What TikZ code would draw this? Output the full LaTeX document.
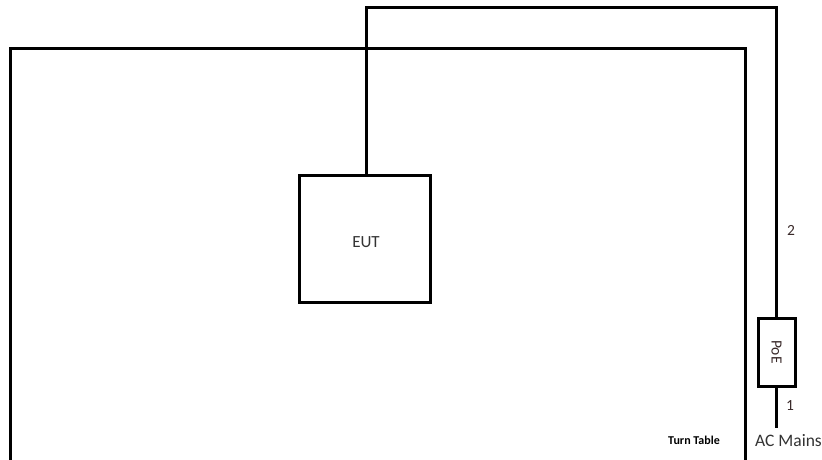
\documentclass[tikz,border=0pt]{standalone}
\usepackage{fontspec}
\setmainfont{Carlito}
\definecolor{lblcol}{HTML}{3A2A2A}
\begin{document}
\begin{tikzpicture}[x=1pt,y=-1pt,
  wire/.style={line width=3pt,line cap=butt},
  boxst/.style={draw,line width=3pt,minimum width=131pt,minimum height=127pt,inner sep=0pt,fill=white},
  poest/.style={draw,line width=3pt,minimum width=37pt,minimum height=68pt,inner sep=0pt,fill=white},
  lbl/.style={text=lblcol,font=\fontsize{15.5}{17}\selectfont,inner sep=0pt}]
\useasboundingbox (0,0) rectangle (822,459);
\clip (0,0) rectangle (822,459);
% turn table
\coordinate (ttbl) at (10,462);
\coordinate (tttl) at (10,48);
\coordinate (tttr) at (745,48);
\coordinate (ttbr) at (745,462);
\draw[wire] (ttbl) -- (tttl) -- (tttr) -- (ttbr);
% EUT
\node[boxst] (eut) at (364.5,238.5) {};
\node[font=\fontsize{17}{19}\selectfont,text=black!80,inner sep=0pt] (eutl) at (366,242) {EUT};
% PoE
\node[poest] (poe) at (776.5,352) {};
\node[lbl,rotate=-90] (poel) at (776.5,352) {PoE};
\coordinate (c1) at (366,7);
\coordinate (c2) at (776,7);
\coordinate (ac) at (776,428);
\draw[wire] (eut.north -| c1) -- (c1) -- (c2) -- (poe.north -| c2);
\draw[wire] (poe.south -| ac) -- (ac);
\node[lbl] (n2) at (791,230) {2};
\node[lbl] (n1) at (790,406) {1};
\node[font=\fontsize{17.5}{19}\selectfont,text=black!80,inner sep=0pt] (acm) at (788.5,441) {AC Mains};
\node[font=\bfseries\fontsize{12}{14}\selectfont,inner sep=0pt] (tt) at (694,440) {Turn Table};
\end{tikzpicture}
\end{document}
